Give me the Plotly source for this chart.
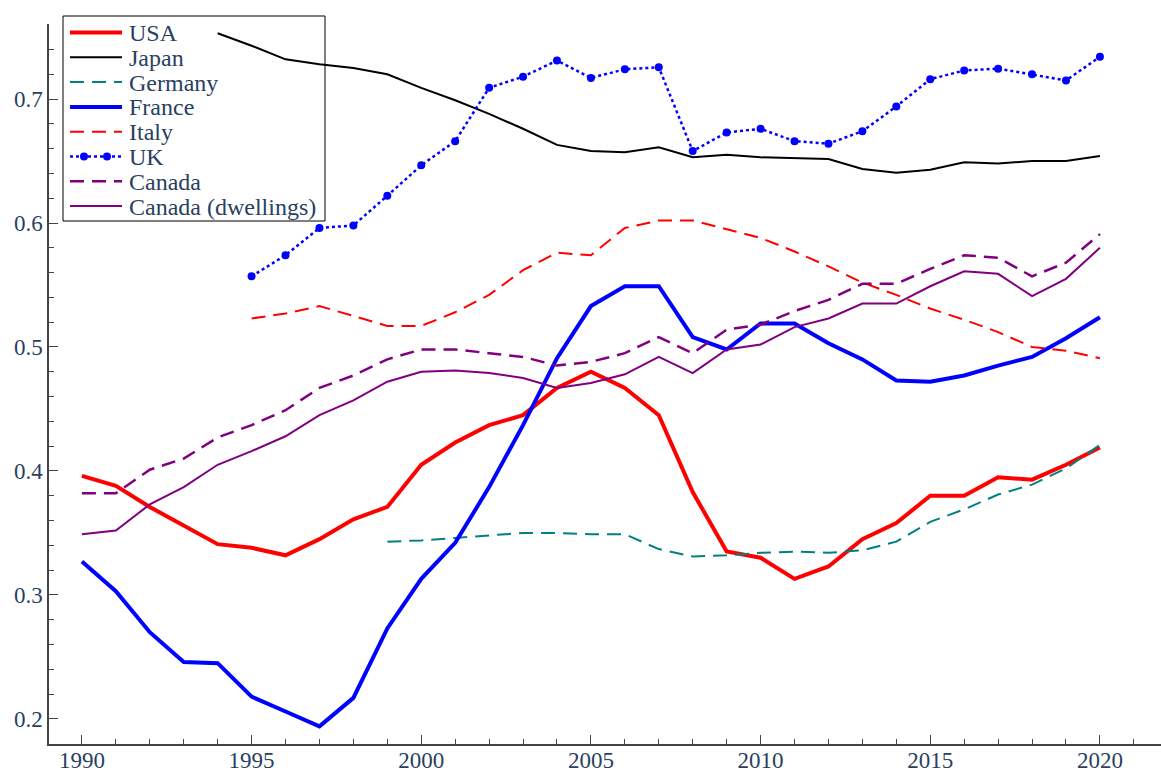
import plotly.graph_objects as go

years_full = list(range(1990, 2021))

usa = [0.396, 0.388, 0.371, 0.356, 0.341, 0.338, 0.332, 0.345, 0.361, 0.371,
       0.405, 0.423, 0.437, 0.445, 0.467, 0.480, 0.467, 0.445, 0.383, 0.335,
       0.330, 0.313, 0.323, 0.345, 0.358, 0.380, 0.380, 0.395, 0.393, 0.405, 0.419]

france = [0.327, 0.303, 0.270, 0.246, 0.245, 0.218, 0.206, 0.194, 0.217, 0.273,
          0.313, 0.342, 0.387, 0.437, 0.491, 0.533, 0.549, 0.549, 0.508, 0.498,
          0.519, 0.519, 0.503, 0.490, 0.473, 0.472, 0.477, 0.485, 0.492, 0.507, 0.524]

canada = [0.382, 0.382, 0.401, 0.410, 0.427, 0.437, 0.449, 0.467, 0.477, 0.490,
          0.498, 0.498, 0.495, 0.492, 0.485, 0.488, 0.495, 0.508, 0.495, 0.514,
          0.518, 0.529, 0.538, 0.551, 0.551, 0.563, 0.574, 0.572, 0.557, 0.568, 0.591]

canada_dw = [0.349, 0.352, 0.373, 0.387, 0.405, 0.416, 0.428, 0.445, 0.457, 0.472,
             0.480, 0.481, 0.479, 0.475, 0.467, 0.471, 0.478, 0.492, 0.479, 0.498,
             0.502, 0.516, 0.523, 0.535, 0.535, 0.549, 0.561, 0.559, 0.541, 0.555, 0.580]

years_japan = list(range(1994, 2021))
japan = [0.753, 0.743, 0.732, 0.728, 0.725, 0.720, 0.709, 0.699, 0.688, 0.676,
         0.663, 0.658, 0.657, 0.661, 0.653, 0.655, 0.653, 0.652, 0.6516, 0.6435,
         0.6406, 0.643, 0.649, 0.648, 0.650, 0.650, 0.654]

years_germany = list(range(1999, 2021))
germany = [0.343, 0.344, 0.346, 0.348, 0.350, 0.350, 0.349, 0.349, 0.337, 0.331,
           0.332, 0.334, 0.335, 0.334, 0.336, 0.343, 0.359, 0.369, 0.381, 0.389,
           0.402, 0.421]

years_italy = list(range(1995, 2021))
italy = [0.523, 0.527, 0.533, 0.525, 0.517, 0.517, 0.528, 0.542, 0.562, 0.576,
         0.574, 0.596, 0.602, 0.602, 0.595, 0.588, 0.577, 0.565, 0.552, 0.542,
         0.531, 0.522, 0.512, 0.500, 0.497, 0.491]

years_uk = list(range(1995, 2021))
uk = [0.557, 0.574, 0.596, 0.598, 0.622, 0.6465, 0.666, 0.709, 0.718, 0.731,
      0.717, 0.724, 0.7256, 0.658, 0.673, 0.676, 0.666, 0.664, 0.674, 0.694,
      0.716, 0.723, 0.7245, 0.720, 0.715, 0.734]

x_ticks = [1990, 1995, 2000, 2005, 2010, 2015, 2020]
y_ticks = [0.2, 0.3, 0.4, 0.5, 0.6, 0.7]

RED = "#ff0000"
BLUE = "#0000ff"
TEAL = "#008080"
PURPLE = "#800080"
DASH = "14px,8px"
DOT = "3px,3px"
SERIF = "Liberation Serif"

# Series styles, in legend order
series = [
    dict(name="USA", x=years_full, y=usa, color=RED, width=4, dash="solid", marker=False),
    dict(name="Japan", x=years_japan, y=japan, color="black", width=2, dash="solid", marker=False),
    dict(name="Germany", x=years_germany, y=germany, color=TEAL, width=2, dash=DASH, marker=False),
    dict(name="France", x=years_full, y=france, color=BLUE, width=4, dash="solid", marker=False),
    dict(name="Italy", x=years_italy, y=italy, color=RED, width=2, dash=DASH, marker=False),
    dict(name="UK", x=years_uk, y=uk, color=BLUE, width=2.5, dash=DOT, marker=True),
    dict(name="Canada", x=years_full, y=canada, color=PURPLE, width=2.5, dash=DASH, marker=False),
    dict(name="Canada (dwellings)", x=years_full, y=canada_dw, color=PURPLE, width=2, dash="solid", marker=False),
]

fig = go.Figure()
for s in series:
    fig.add_trace(go.Scatter(
        x=s["x"], y=s["y"], name=s["name"],
        mode="lines+markers" if s["marker"] else "lines",
        line=dict(color=s["color"], width=s["width"], dash=s["dash"]),
        marker=dict(color=s["color"], size=8),
        showlegend=False,
    ))

# Hand-built legend box (paper coordinates derived from pixel layout)
W, H = 1161, 771
ML, MR, MT, MB = 49, 0, 24, 27
PW, PH = W - ML - MR, H - MT - MB


def px(xp):
    return (xp - ML) / PW


def py(yp):
    return (H - MB - yp) / PH


shapes = [dict(type="rect", xref="paper", yref="paper",
               x0=px(63), x1=px(325), y0=py(221), y1=py(16),
               line=dict(color="black", width=1), fillcolor="rgba(0,0,0,0)",
               layer="below")]
annotations = []
row0, step = 32.5, 24.8
for i, s in enumerate(series):
    yc = row0 + i * step
    shapes.append(dict(type="line", xref="paper", yref="paper",
                       x0=px(70), x1=px(122), y0=py(yc), y1=py(yc),
                       line=dict(color=s["color"], width=s["width"], dash=s["dash"])))
    if s["marker"]:
        for xm in (84, 107):
            shapes.append(dict(type="circle", xref="paper", yref="paper",
                               x0=px(xm - 4), x1=px(xm + 4), y0=py(yc + 4), y1=py(yc - 4),
                               line=dict(color=s["color"], width=0), fillcolor=s["color"]))
    annotations.append(dict(xref="paper", yref="paper", x=px(127), y=py(yc + 0.5),
                            xanchor="left", yanchor="middle", showarrow=False,
                            text=s["name"], font=dict(family=SERIF, size=24)))

axis_common = dict(
    showgrid=False, zeroline=False, showline=True, linecolor="#444", linewidth=1.5,
    ticks="inside", tickcolor="#444", tickwidth=1, ticklen=9,
    tickfont=dict(family=SERIF, size=23),
    automargin=False,
)

fig.update_layout(
    width=W, height=H,
    margin=dict(l=ML, r=MR, t=MT, b=MB),
    paper_bgcolor="white", plot_bgcolor="white",
    showlegend=False,
    shapes=shapes,
    annotations=annotations,
    xaxis=dict(range=[1989.03, 2021.8], tickvals=x_ticks, ticklabelstandoff=-5,
               minor=dict(dtick=1, ticks="inside", ticklen=5, tickcolor="#444"),
               **axis_common),
    yaxis=dict(range=[0.1798, 0.7605], tickvals=y_ticks, tickformat=".1f",
               minor=dict(dtick=0.02, tick0=0.2, ticks="inside", ticklen=5, tickcolor="#444"),
               **axis_common),
)

fig.write_html("out.html")
